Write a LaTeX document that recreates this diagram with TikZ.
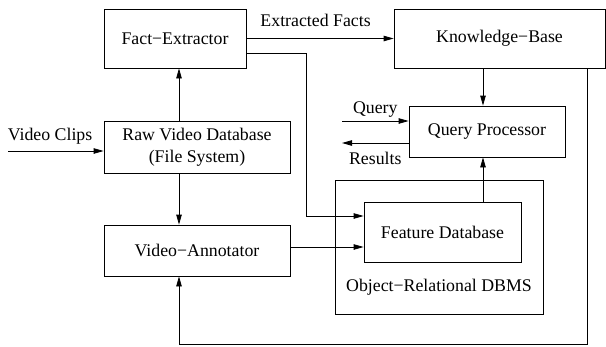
\documentclass[tikz,border=0pt]{standalone}
\usepackage{fontspec}
\setmainfont{Liberation Serif}
\usetikzlibrary{arrows.meta}
\begin{document}
\begin{tikzpicture}[x=1pt, y=-1pt,
		every node/.style={font=\fontsize{17.8}{22}\selectfont},
		box/.style={draw, line width=0.8pt, inner sep=0pt, align=center},
		arrow/.style={-{Triangle[length=10pt, width=5.5pt]}, line width=0.8pt}]
		\useasboundingbox (0,0) rectangle (606,346);

		% boxes
		\node[box, minimum width=142, minimum height=59] (fact) at (175,38.5) {Fact−Extractor};
		\node[box, minimum width=211, minimum height=59] (kb) at (499.5,38.5) {Knowledge−Base};
		\node[box, minimum width=186, minimum height=52] (raw) at (197,147) {Raw Video Database\\(File System)};
		\node[box, minimum width=186, minimum height=51] (annot) at (197,250.5) {Video−Annotator};
		\node[box, minimum width=156, minimum height=51] (qp) at (487,131.5) {Query Processor};
		\node[box, minimum width=208, minimum height=134] (dbms) at (439,247) {};
		\node[box, minimum width=157, minimum height=60] (feat) at (442.5,232) {Feature Database};
		\node (dbmslabel) at (439,287) {Object−Relational DBMS};

		% points the connectors pass through
		\coordinate (spine) at (179,0);
		\coordinate (qpspine) at (483,0);
		\coordinate (clips) at (8,151);
		\coordinate (query) at (342,121);
		\coordinate (results) at (342,143);
		\coordinate (factbus) at (306,53);
		\coordinate (featin) at (0,216);
		\coordinate (annotout) at (0,247);
		\coordinate (loop) at (587,344);

		% connectors
		\draw[arrow] (clips) -- node[above=3pt, pos=0.44] {Video Clips} (raw.west |- clips);
		\draw[arrow] (raw.north -| spine) -- (fact.south -| spine);
		\draw[arrow] (raw.south -| spine) -- (annot.north -| spine);
		\draw[arrow] (fact.east) -- node[above=8pt, pos=0.47] {Extracted Facts} (kb.west);
		\draw[arrow] (fact.east |- factbus) -- (factbus) |- (feat.west |- featin);
		\draw[arrow] (annot.east |- annotout) -- (feat.west |- annotout);
		\draw[arrow] (kb.south -| qpspine) -- (qp.north -| qpspine);
		\draw[arrow] (feat.north -| qpspine) -- (qp.south -| qpspine);
		\draw[arrow] (query) -- node[above] {Query} (qp.west |- query);
		\draw[arrow] (qp.west |- results) -- node[below=5pt] {Results} (results);
		\draw[arrow] (kb.south -| loop) -- (loop) -| (annot.south -| spine);
	\end{tikzpicture}
\end{document}
